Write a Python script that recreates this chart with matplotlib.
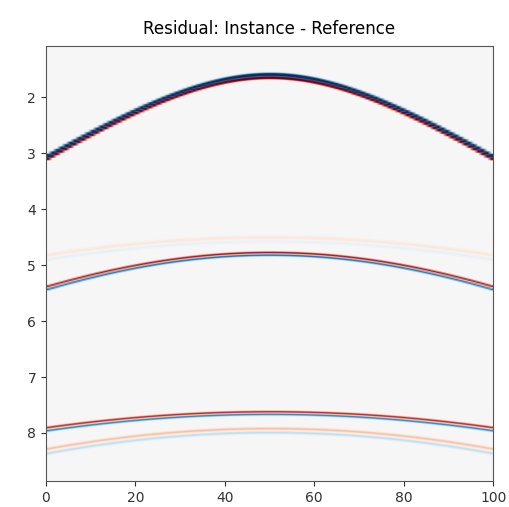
import numpy as np
import matplotlib
matplotlib.use('Agg')
import matplotlib.pyplot as plt

# Residual events (times in plot units)
# apex time at trace 50, time at the outer traces (0 / 100), signed amplitude, half width
event_apex = [1.625, 1.665, 4.79, 4.835, 4.53, 4.58, 7.63, 7.675, 7.93, 8.00]
event_edge = [3.07, 3.11, 5.39, 5.445, 4.84, 4.90, 7.91, 7.965, 8.29, 8.37]
event_amp = [3.0, -4.0, -0.95, 0.85, -0.12, 0.09, -0.85, 0.75, -0.32, 0.26]
event_width = [0.022, 0.016, 0.014, 0.014, 0.03, 0.03, 0.014, 0.014, 0.018, 0.018]

offsets = np.arange(0, 101)
t_min, t_max, dt = 1.09, 8.86, 0.004
times = np.arange(t_min, t_max + dt, dt)


def moveout(apex, edge, x):
    k = (edge ** 2 - apex ** 2) / 50.0 ** 2
    return np.sqrt(apex ** 2 + k * (x - 50.0) ** 2)


residual = np.zeros((len(times), len(offsets)))
T = times[:, None]
for apex, edge, amp, width in zip(event_apex, event_edge, event_amp, event_width):
    tt = moveout(apex, edge, offsets[None, :].astype(float))
    residual += amp * np.exp(-0.5 * ((T - tt) / width) ** 2)

fig = plt.figure(figsize=(5.1, 5.07), dpi=100)
ax = fig.add_axes([0.090, 0.051, 0.877, 0.858])
ax.imshow(residual, cmap='RdBu', vmin=-1, vmax=1, aspect='auto',
          extent=[0, 100, t_max, t_min], interpolation='bilinear')
ax.set_xticks([0, 20, 40, 60, 80, 100])
ax.set_yticks([2, 3, 4, 5, 6, 7, 8])
ax.tick_params(labelsize=10, colors='#333333')
for s in ax.spines.values():
    s.set_color('#555555')
ax.set_title('Residual: Instance - Reference', fontsize=12, pad=9)

fig.savefig('out.png', dpi=100)
